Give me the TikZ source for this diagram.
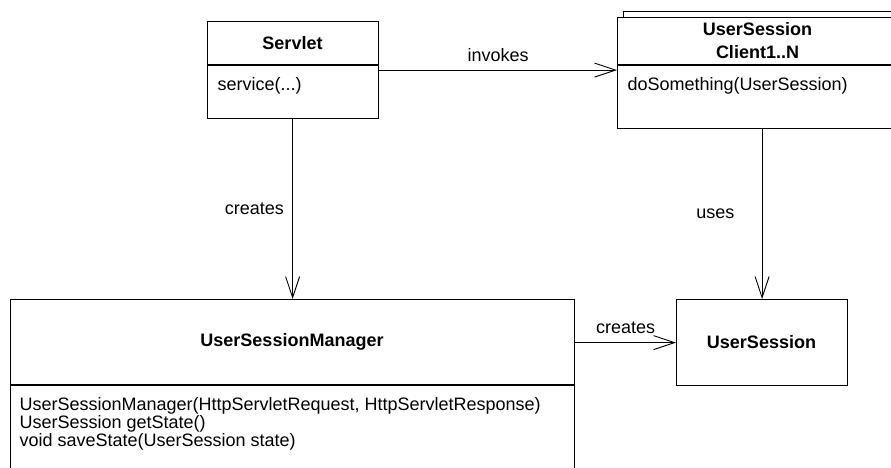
\documentclass[tikz,border=0pt]{standalone}
\usepackage{fontspec}
\setmainfont{Liberation Sans}
\usetikzlibrary{arrows.meta,positioning}
\newcommand{\umlfont}{\fontsize{18}{18}\selectfont}
\tikzset{>={Straight Barb[length=21pt,width=14pt]}}
\tikzset{
  classbox/.style={draw,line width=1.2pt,fill=white,inner sep=0pt,anchor=north west},
  classname/.style={font=\umlfont\bfseries},
  classop/.style={anchor=west,align=left},
  assoc/.style={->,line width=0.9pt}
}
\begin{document}
\begin{tikzpicture}[x=1pt,y=-1pt,font=\umlfont]
\path[use as bounding box,clip] (0,0) rectangle (891,468);
% classes
\node[classbox,minimum width=171pt,minimum height=97pt] (servlet) at (207,21) {};
\draw[line width=1.2pt] (207,65) -- (378,65);
\node[classname] (servletname) at (292.5,43) {Servlet};
\node[classop] (servletop) at (214,86) {service(...)};

\node[classbox,minimum width=290pt,minimum height=100pt] (clientback) at (623,11) {};
\node[classbox,minimum width=290pt,minimum height=111pt] (client) at (617,17) {};
\draw[line width=1.2pt] (617,65) -- (891,65);
\node[classname,align=center] (clientname) at (757.5,41) {UserSession\\[5pt]Client1..N};
\node[classop] (clientop) at (624,86) {doSomething(UserSession)};

\node[classbox,minimum width=564pt,minimum height=200pt] (manager) at (10,299) {};
\draw[line width=1.2pt] (10,385) -- (574,385);
\node[classname] (managername) at (292,342) {UserSessionManager};
\node[classop] (managerops) at (16,424)
  {UserSessionManager(HttpServletRequest, HttpServletResponse)\\
   UserSession getState()\\
   void saveState(UserSession state)};

\node[classbox,minimum width=171pt,minimum height=86pt] (session) at (676,299) {};
\node[classname] (sessionname) at (761.5,342) {UserSession};

% associations
\draw[assoc] (servlet.east) -- (servlet.east -| client.west)
  node[midway,above=5pt] (invokes) {invokes};
\draw[assoc] (servlet.south -| manager.north) -- (manager.north)
  node[midway,left=5pt] (creates) {creates};
\draw[assoc] (session.north |- client.south) -- (session.north)
  node[midway,left=24pt] (uses) {uses};
\draw[assoc] (session.west -| manager.east) -- (session.west)
  node[midway,above=5pt] (creates2) {creates};
\end{tikzpicture}
\end{document}
